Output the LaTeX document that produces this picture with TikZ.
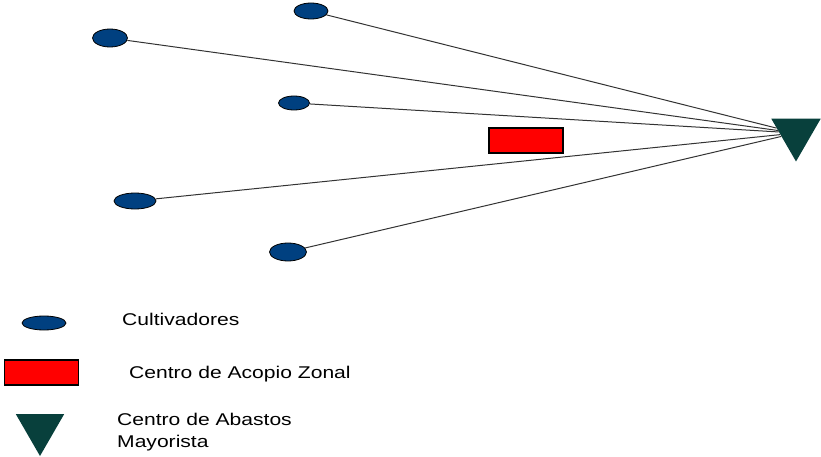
\documentclass[tikz,border=0pt]{standalone}
\usepackage{fontspec}
\setmainfont{Liberation Sans}
\usetikzlibrary{shapes.geometric}
\definecolor{farmblue}{RGB}{0,64,128}
\definecolor{hubgreen}{RGB}{8,64,60}
\newcommand{\wide}[1]{\scalebox{1.24}[1]{#1}}
\begin{document}
\begin{tikzpicture}[x=1pt,y=1pt,
    farm/.style={ellipse,draw=black,line width=0.8pt,fill=farmblue,inner sep=0pt},
    acopio/.style={rectangle,draw=black,line width=1.2pt,fill=red,inner sep=0pt,minimum width=74,minimum height=25},
    abasto/.style={regular polygon,regular polygon sides=3,shape border rotate=180,fill=hubgreen,inner sep=0pt,minimum size=57},
    legend/.style={anchor=base west,font=\fontsize{17}{22}\selectfont,inner sep=0pt,align=left}]
  \useasboundingbox (0,0) rectangle (821,-457);
  % main diagram
  \node[abasto] (tri) at (796,-133) {};
  \node[farm,minimum width=34,minimum height=16] (c1) at (311,-11) {};
  \node[farm,minimum width=35,minimum height=18] (c2) at (110,-38) {};
  \node[farm,minimum width=31,minimum height=14] (c3) at (294,-103) {};
  \node[farm,minimum width=42,minimum height=16] (c4) at (135,-201) {};
  \node[farm,minimum width=37,minimum height=18] (c5) at (288,-252) {};
  \node[acopio] (zona) at (526,-140.5) {};
  \foreach \c in {c1,c2,c3,c4,c5}
    \draw[line width=1pt,black!80] (\c) -- (tri);
  % legend
  \node[farm,minimum width=44,minimum height=14] (lc) at (44,-323) {};
  \node[legend] (tc) at (122,-325) {\wide{Cultivadores}};
  \node[acopio] (lz) at (41.5,-372.5) {};
  \node[legend] (tz) at (129,-378) {\wide{Centro de Acopio Zonal}};
  \node[abasto,minimum size=56] (lt) at (40,-428) {};
  \node[legend] (tt) at (117,-447) {\wide{Centro de Abastos}\\\wide{Mayorista}};
\end{tikzpicture}
\end{document}
